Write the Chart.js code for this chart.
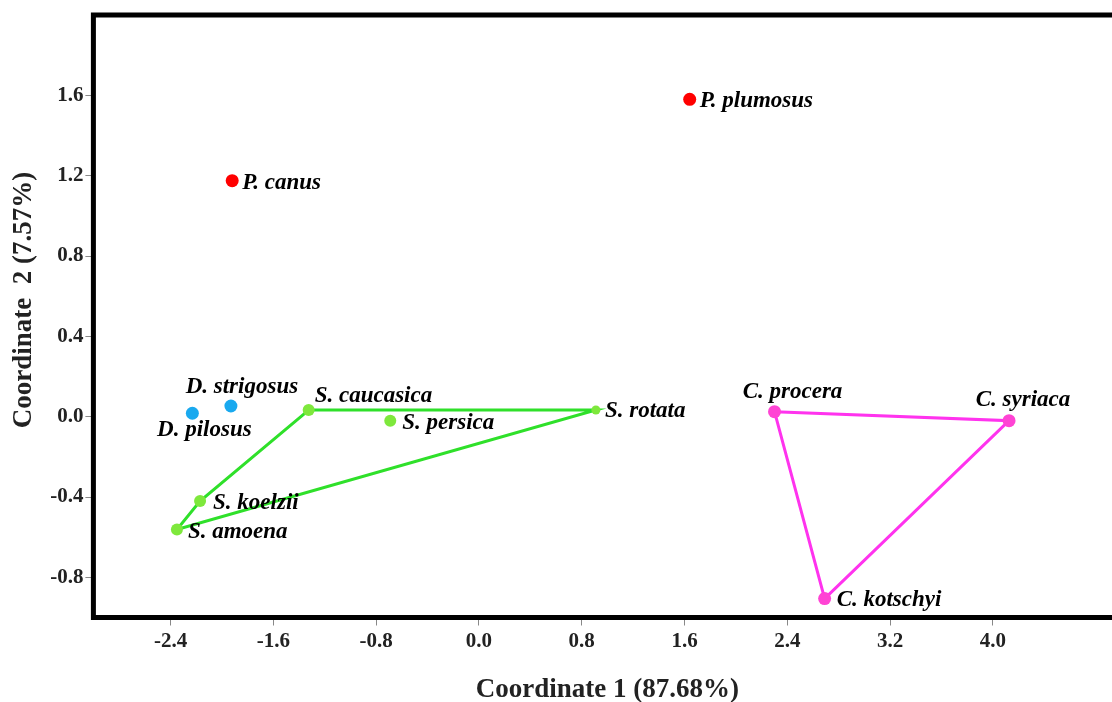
<!DOCTYPE html>
<html><head><meta charset="utf-8">
<script src="https://cdn.jsdelivr.net/npm/chart.js@4/dist/chart.umd.min.js"></script>
<style>
html,body{margin:0;padding:0;background:#fff;overflow:hidden;width:1112px;height:702px}
#wrap{position:relative;width:1130px;height:702px}
</style></head>
<body><div id="wrap"><canvas id="c" width="1130" height="702"></canvas></div>
<script>
// ---- data ----
const xTicks = [-2.4, -1.6, -0.8, 0.0, 0.8, 1.6, 2.4, 3.2, 4.0];
const yTicks = [-0.8, -0.4, 0.0, 0.4, 0.8, 1.2, 1.6];

const pNames = ['P. plumosus', 'P. canus'];
const pX = [1.64, -1.92];
const pY = [1.58, 1.175];

const dNames = ['D. strigosus', 'D. pilosus'];
const dX = [-1.93, -2.23];
const dY = [0.053, 0.017];

const sNames = ['S. caucasica', 'S. persica', 'S. rotata', 'S. koelzii', 'S. amoena'];
const sX = [-1.325, -0.69, 0.91, -2.17, -2.35];
const sY = [0.033, -0.02, 0.033, -0.42, -0.562];
const sHull = ['S. caucasica', 'S. rotata', 'S. amoena', 'S. koelzii', 'S. caucasica'];

const cNames = ['C. procera', 'C. syriaca', 'C. kotschyi'];
const cX = [2.30, 4.125, 2.69];
const cY = [0.025, -0.02, -0.906];
const cHull = ['C. procera', 'C. syriaca', 'C. kotschyi', 'C. procera'];

const xTitle = 'Coordinate 1 (87.68%)';
const yTitle = 'Coordinate  2 (7.57%)';

// ---- label placement styles ----
const labelStyle = {
  'P. plumosus': {align: 'left', dx: 10, dy: 2},
  'P. canus': {align: 'left', dx: 10, dy: 2},
  'D. strigosus': {align: 'center', dx: 11, dy: -19},
  'D. pilosus': {align: 'center', dx: 12, dy: 17},
  'S. caucasica': {align: 'left', dx: 6, dy: -14},
  'S. persica': {align: 'left', dx: 12, dy: 2},
  'S. rotata': {align: 'left', dx: 9, dy: 1},
  'S. koelzii': {align: 'left', dx: 13, dy: 2},
  'S. amoena': {align: 'left', dx: 11, dy: 3},
  'C. procera': {align: 'center', dx: 18, dy: -20},
  'C. syriaca': {align: 'center', dx: 14, dy: -21},
  'C. kotschyi': {align: 'left', dx: 12, dy: 1}
};

function pts(names, xs, ys) { return names.map((n, i) => ({x: xs[i], y: ys[i], name: n})); }
function hull(order, names, xs, ys) { return order.map(n => { const i = names.indexOf(n); return {x: xs[i], y: ys[i]}; }); }

const datasets = [
  {data: pts(pNames, pX, pY), pointRadius: 6.5, backgroundColor: '#ff0000', borderWidth: 0, showLine: false, order: 1, labelled: true},
  {data: pts(dNames, dX, dY), pointRadius: 6.5, backgroundColor: '#19a9ef', borderWidth: 0, showLine: false, order: 1, labelled: true},
  {data: pts(sNames, sX, sY), pointRadius: [6, 6, 4.5, 6, 6], backgroundColor: '#7ee83c', borderWidth: 0, showLine: false, order: 1, labelled: true},
  {data: pts(cNames, cX, cY), pointRadius: 6.5, backgroundColor: '#ff44d4', borderWidth: 0, showLine: false, order: 1, labelled: true},
  {data: hull(sHull, sNames, sX, sY), showLine: true, borderColor: '#2fe02a', borderWidth: 3, pointRadius: 0, fill: false, order: 2},
  {data: hull(cHull, cNames, cX, cY), showLine: true, borderColor: '#ff33ee', borderWidth: 3, pointRadius: 0, fill: false, order: 2}
];

const SERIF = '"Liberation Serif", "Times New Roman", serif';

const framePlugin = {
  id: 'frame',
  beforeDatasetsDraw(chart) {
    const {ctx, chartArea: a} = chart;
    ctx.save();
    ctx.strokeStyle = '#000';
    ctx.lineWidth = 5;
    ctx.strokeRect(a.left, a.top, a.right - a.left, a.bottom - a.top);
    ctx.restore();
  }
};

const yTitlePlugin = {
  id: 'ytitle',
  afterDraw(chart) {
    const ctx = chart.ctx;
    ctx.save();
    ctx.translate(24, 300);
    ctx.rotate(-Math.PI / 2);
    ctx.font = 'bold 27px ' + SERIF;
    ctx.fillStyle = '#222';
    ctx.textAlign = 'center';
    ctx.textBaseline = 'middle';
    ctx.fillText(yTitle, 0, 0);
    ctx.restore();
  }
};

const labelPlugin = {
  id: 'ptlabels',
  afterDatasetsDraw(chart) {
    const ctx = chart.ctx;
    ctx.save();
    ctx.font = 'italic bold 23px ' + SERIF;
    ctx.fillStyle = '#000';
    ctx.textBaseline = 'middle';
    chart.data.datasets.forEach((ds, di) => {
      if (!ds.labelled) return;
      const meta = chart.getDatasetMeta(di);
      meta.data.forEach((el, i) => {
        const name = ds.data[i].name;
        const st = labelStyle[name];
        ctx.textAlign = st.align;
        ctx.fillText(name, el.x + st.dx, el.y + st.dy);
      });
    });
    ctx.restore();
  }
};

const tickFont = {family: SERIF, size: 21, weight: 'bold'};
const titleFont = {family: SERIF, size: 27, weight: 'bold'};

new Chart(document.getElementById('c'), {
  type: 'scatter',
  data: {datasets},
  plugins: [framePlugin, labelPlugin, yTitlePlugin],
  options: {
    responsive: false,
    devicePixelRatio: 1,
    animation: false,
    events: [],
    layout: {padding: {top: 15, right: 8.5, left: 0, bottom: 0}},
    plugins: {legend: {display: false}, tooltip: {enabled: false}},
    scales: {
      x: {
        type: 'linear', min: -3, max: 5,
        afterBuildTicks: s => { s.ticks = xTicks.map(v => ({value: v})); },
        afterFit: s => { s.height = 84.5; },
        ticks: {color: '#222', font: tickFont, padding: 3, maxRotation: 0, callback: v => Number(v).toFixed(1)},
        grid: {drawOnChartArea: false, drawTicks: true, tickLength: 8, color: '#888'},
        border: {display: false},
        title: {display: true, text: xTitle, color: '#222', font: titleFont, padding: {top: 0, bottom: -4}}
      },
      y: {
        type: 'linear', min: -1, max: 2,
        afterBuildTicks: s => { s.ticks = yTicks.map(v => ({value: v})); },
        afterFit: s => { s.width = 93.4; },
        ticks: {color: '#222', font: tickFont, padding: 2, callback: v => Number(v).toFixed(1)},
        grid: {drawOnChartArea: false, drawTicks: true, tickLength: 8, color: '#888'},
        border: {display: false},
        title: {display: false}
      }
    }
  }
});
</script>
</body></html>
